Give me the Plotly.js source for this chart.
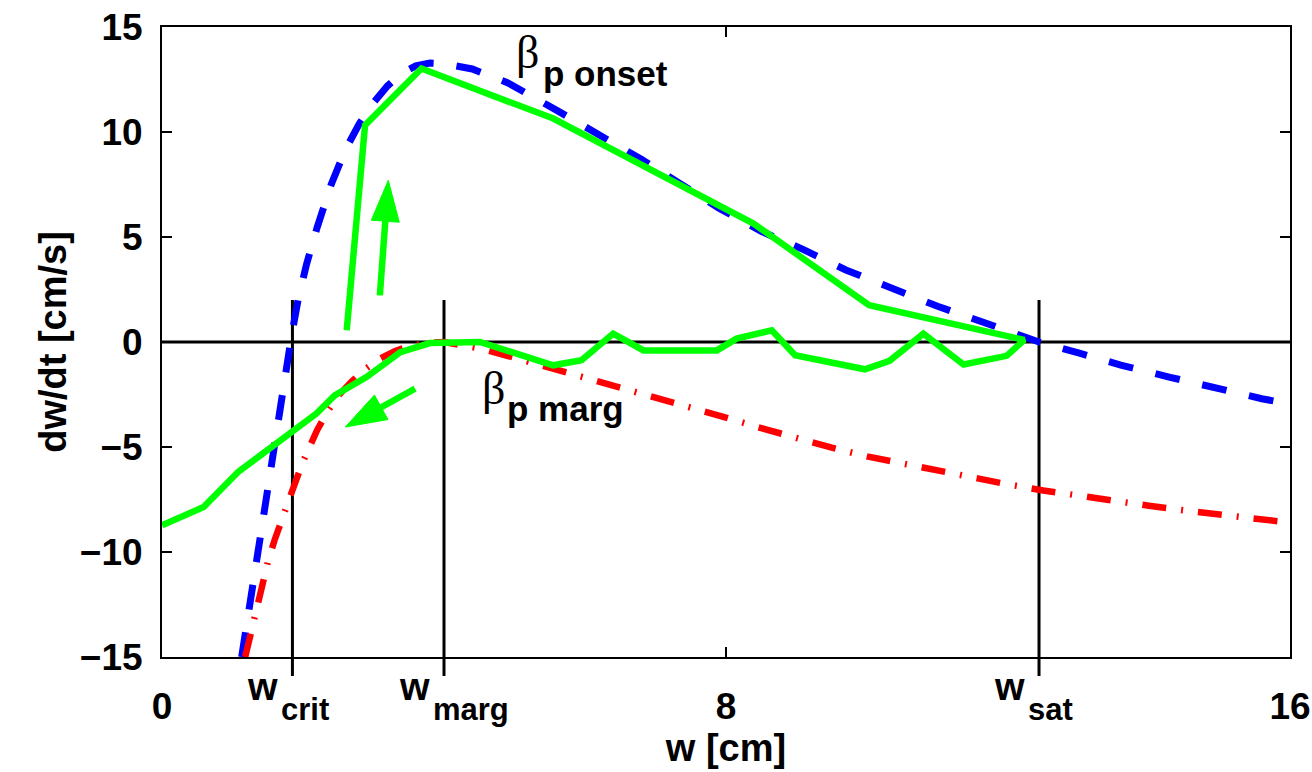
<!DOCTYPE html>
<html><head><meta charset="utf-8">
<script src="https://cdn.plot.ly/plotly-3.0.1.min.js"></script>
<style>html,body{margin:0;padding:0;background:#fff}</style>
</head><body>
<div id="chart" style="width:1312px;height:772px"></div>
<script>
// beta_p onset curve (blue dashed)
const onsetW = [1.13,1.25,1.37,1.49,1.59,1.68,1.76,1.84,1.93,2.05,2.2,2.4,2.6,2.8,3.0,3.2,3.4,3.6,3.8,4.0,4.4,4.9,5.6,6.2,6.8,7.35,7.9,8.5,9.1,9.7,10.4,11.0,11.7,12.44,13.0,13.6,14.3,14.95,15.6,16.0];
const onsetRate = [-15,-12.4,-9.7,-7.0,-4.8,-2.8,-1.1,0.35,2.0,3.7,5.45,7.5,9.15,10.4,11.4,12.2,12.8,13.15,13.28,13.25,13.0,12.35,11.03,9.87,8.7,7.54,6.37,5.27,4.4,3.43,2.46,1.7,0.88,0.0,-0.52,-1.1,-1.68,-2.22,-2.7,-2.95];
// beta_p marg curve (red dash-dot)
const margW = [1.18,1.3,1.4,1.5,1.6,1.7,1.8,1.9,2.0,2.1,2.2,2.35,2.5,2.7,2.9,3.1,3.3,3.5,3.75,4.0,4.5,5.0,5.5,6.0,6.5,7.0,7.5,8.0,8.5,9.0,9.5,10.0,10.5,11.0,11.5,12.0,12.5,13.0,13.5,14.0,14.5,15.0,15.5,16.0];
const margRate = [-15,-13.2,-11.7,-10.5,-9.4,-8.4,-7.5,-6.6,-5.7,-4.9,-4.2,-3.3,-2.55,-1.85,-1.25,-0.78,-0.44,-0.2,-0.05,0,-0.3,-0.75,-1.22,-1.68,-2.13,-2.6,-3.1,-3.6,-4.1,-4.58,-5.03,-5.45,-5.8,-6.14,-6.47,-6.78,-7.07,-7.33,-7.57,-7.8,-8.02,-8.22,-8.42,-8.6];
// island width trajectory (green)
const pathW = [0,0.59,1.08,2.19,2.45,2.9,3.38,3.8,4.51,5.55,5.95,6.4,6.83,7.87,8.15,8.65,8.98,9.97,10.32,10.8,11.37,11.98,12.23,10.03,8.39,5.55,3.68,2.88,2.62];
const pathRate = [-8.73,-7.86,-6.19,-3.41,-2.54,-1.67,-0.48,-0.05,0.0,-1.11,-0.87,0.4,-0.4,-0.4,0.16,0.56,-0.63,-1.3,-0.9,0.4,-1.07,-0.66,0.1,1.75,5.64,10.64,13.02,10.32,0.56];
// characteristic widths
const wCrit = 1.85, wMarg = 4.0, wSat = 12.44;
const wNames = ['crit','marg','sat'];
const wValues = [wCrit, wMarg, wSat];
const wLineTop = 2;
// axes
const xRange = [0,16], yRange = [-15,15];
const xTickVals = [0,8,16], xTickText = ['0','8','16'];
const yTickVals = [-15,-10,-5,0,5,10,15];
// direction arrows [w, dw/dt]
const arrowUpTail = [3.09,2.22], arrowUpTip = [3.21,7.7];
const arrowDownTail = [3.59,-2.22], arrowDownTip = [2.60,-4.05];

const W = 1312, H = 772;
const M = {l:162, r:22, t:27, b:115};
const plotW = W - M.l - M.r, plotH = H - M.t - M.b;
const sx = plotW/(xRange[1]-xRange[0]), sy = plotH/(yRange[1]-yRange[0]);
const FONT = 'Liberation Sans, Arial, Helvetica, sans-serif';
const GREEN = '#00ff00';

function arrowTraces(tail, tip){
  const dx = (tip[0]-tail[0])*sx, dy = (tip[1]-tail[1])*sy;
  const len = Math.hypot(dx,dy), ux = dx/len, uy = dy/len;
  const L = 41, hw = 14;
  const bx = -L*ux, by = -L*uy;
  const px = -uy*hw, py = ux*hw;
  const toData = (ox,oy)=>[tip[0]+ox/sx, tip[1]+oy/sy];
  const b = toData(bx+2*ux, by+2*uy);
  const c1 = toData(bx+px, by+py), c2 = toData(bx-px, by-py);
  return [
    {x:[tail[0], b[0]], y:[tail[1], b[1]], mode:'lines', line:{color:GREEN,width:6.5}, hoverinfo:'skip', showlegend:false},
    {x:[tip[0], c1[0], c2[0], tip[0]], y:[tip[1], c1[1], c2[1], tip[1]], mode:'lines', fill:'toself', fillcolor:GREEN, line:{color:GREEN,width:1}, hoverinfo:'skip', showlegend:false}
  ];
}

const traces = [
  {x:onsetW, y:onsetRate, mode:'lines', name:'β_p onset', line:{color:'#0000ff', width:7, dash:'25px,23px'}},
  {x:margW, y:margRate, mode:'lines', name:'β_p marg', line:{color:'#ff0000', width:6.5, dash:'24px,15px,2px,15px'}},
  {x:pathW, y:pathRate, mode:'lines', name:'trajectory', line:{color:GREEN, width:6.5}},
  ...arrowTraces(arrowUpTail, arrowUpTip),
  ...arrowTraces(arrowDownTail, arrowDownTip)
];

const topPaper = (wLineTop - yRange[0])/(yRange[1]-yRange[0]);
const shapes = [
  {type:'line', xref:'paper', yref:'y', x0:0, x1:1, y0:0, y1:0, line:{color:'#000', width:3}, layer:'below'}
].concat(wValues.map(v => ({type:'line', xref:'x', yref:'paper', x0:v, x1:v, y0:topPaper, y1:-0.03, line:{color:'#000', width:3}, layer:'below'})));

const annotations = [];
wValues.forEach((v,i) => {
  annotations.push({xref:'x', yref:'paper', x:v, y:-0.0476, text:'w', showarrow:false, xanchor:'right', yanchor:'middle', xshift:-12, font:{family:FONT, size:38, weight:'bold', color:'#000'}});
  annotations.push({xref:'x', yref:'paper', x:v, y:-0.0841, text:wNames[i], showarrow:false, xanchor:'left', yanchor:'middle', xshift:-13, font:{family:FONT, size:31, weight:'bold', color:'#000'}});
});
annotations.push({xref:'x', yref:'y', x:5.19, y:13.8, text:'β', showarrow:false, xanchor:'center', yanchor:'middle', font:{family:'Liberation Serif, DejaVu Serif, serif', size:46, color:'#000'}});
annotations.push({xref:'x', yref:'y', x:5.37, y:12.8, text:'p onset', showarrow:false, xanchor:'left', yanchor:'middle', font:{family:FONT, size:35, weight:'bold', color:'#000'}});
annotations.push({xref:'x', yref:'y', x:4.70, y:-2.2, text:'β', showarrow:false, xanchor:'center', yanchor:'middle', font:{family:'Liberation Serif, DejaVu Serif, serif', size:46, color:'#000'}});
annotations.push({xref:'x', yref:'y', x:4.86, y:-3.17, text:'p marg', showarrow:false, xanchor:'left', yanchor:'middle', font:{family:FONT, size:35, weight:'bold', color:'#000'}});

const axisCommon = {
  showline:true, linecolor:'#000', linewidth:2, mirror:'ticks',
  ticks:'inside', ticklen:10, tickwidth:2, tickcolor:'#000',
  showgrid:false, zeroline:false,
  tickfont:{family:FONT, size:37, weight:'bold', color:'#000'}
};

const layout = {
  width:W, height:H, margin:M,
  paper_bgcolor:'#fff', plot_bgcolor:'#fff',
  showlegend:false,
  xaxis:Object.assign({}, axisCommon, {range:xRange, tickmode:'array', tickvals:xTickVals, ticktext:xTickText, ticklabelstandoff:16,
    title:{text:'w [cm]', font:{family:FONT, size:38, weight:'bold', color:'#000'}, standoff:4}}),
  yaxis:Object.assign({}, axisCommon, {range:yRange, tickmode:'array', tickvals:yTickVals, ticklabelstandoff:10,
    title:{text:'dw/dt [cm/s]', font:{family:FONT, size:38, weight:'bold', color:'#000'}, standoff:2}}),
  shapes:shapes, annotations:annotations
};

Plotly.newPlot('chart', traces, layout, {displayModeBar:false, staticPlot:true});
</script>
</body></html>
